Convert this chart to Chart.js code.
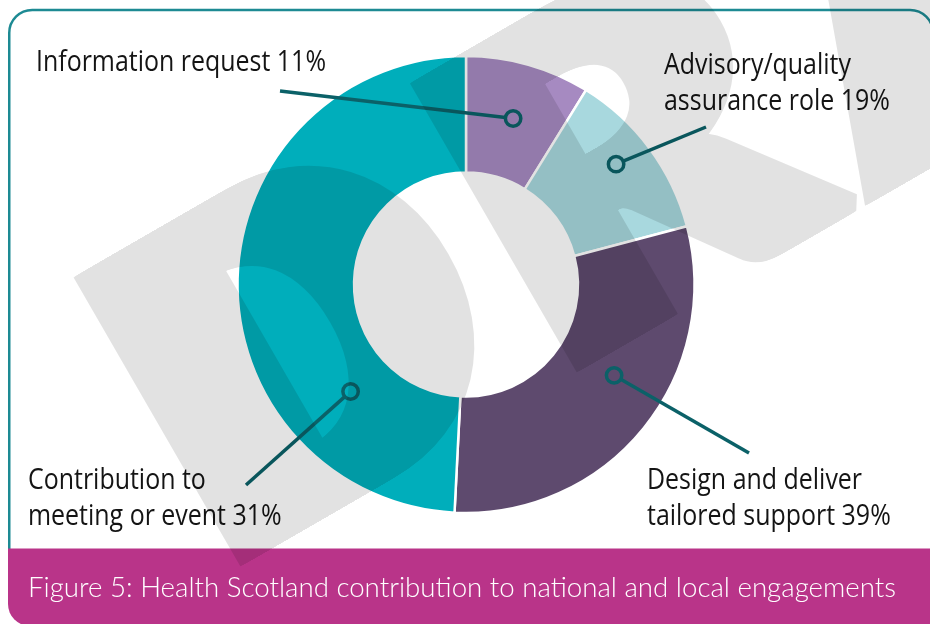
<!DOCTYPE html>
<html>
<head>
<meta charset="utf-8">
<script src="https://cdn.jsdelivr.net/npm/chart.js@4.4.1/dist/chart.umd.min.js"></script>
<style>
  html, body { margin: 0; padding: 0; background: #fff; overflow: hidden; }
  canvas { display: block; }
</style>
</head>
<body>
<canvas id="myChart" width="930" height="624"></canvas>
<script>
// data (slice sizes as drawn, percentages as printed)
const categories = ["Information request", "Advisory/quality assurance role", "Design and deliver tailored support", "Contribution to meeting or event"];
const sliceValues = [8.8, 12.1, 29.9, 49.2];
const printedPercents = [11, 19, 39, 31];
const labelLines = [
  ["Information request"],
  ["Advisory/quality", "assurance role"],
  ["Design and deliver", "tailored support"],
  ["Contribution to", "meeting or event"]
];
const caption = "Figure 5: Health Scotland contribution to national and local engagements";
const watermark = "DRAFT";

const sliceColors = ["#a68ac1", "#a8d8de", "#5e4a6e", "#00aebb"];

// label placement: marker inside slice (t along angle, rf across ring), leader end, text anchor
const callouts = [
  { t: 0.5,  rf: 0.52, end: [280, 91],  x: 36,  y: 71 },
  { t: 0.45, rf: 0.69, end: [706, 127], x: 664, y: 74 },
  { t: 0.43, rf: 0.53, end: [749, 453], x: 647, y: 489 },
  { t: 0.25, rf: 0.39, end: [246, 485], x: 28,  y: 489 }
];

function scaledText(ctx, text, x, y, sx) {
  ctx.save();
  ctx.translate(x, y);
  ctx.scale(sx, 1);
  ctx.fillText(text, 0, 0);
  ctx.restore();
}

const frame = {
  id: "frame",
  beforeDraw(chart) {
    const ctx = chart.ctx;
    ctx.save();
    ctx.fillStyle = "#fff";
    ctx.fillRect(0, 0, chart.width, chart.height);
    // teal rounded frame
    const r = 23;
    ctx.strokeStyle = "#1d8a93";
    ctx.lineWidth = 2.5;
    ctx.beginPath();
    ctx.moveTo(9.25, 552);
    ctx.lineTo(9.25, 10 + r);
    ctx.arcTo(9.25, 10, 9.25 + r, 10, r);
    ctx.lineTo(933 - r, 10);
    ctx.arcTo(933, 10, 933, 10 + r, r);
    ctx.lineTo(933, 552);
    ctx.stroke();
    // magenta caption bar
    ctx.fillStyle = "#b93489";
    ctx.beginPath();
    ctx.moveTo(8, 548.5);
    ctx.lineTo(945, 548.5);
    ctx.lineTo(945, 626);
    ctx.lineTo(8 + 22, 626);
    ctx.arcTo(8, 626, 8, 604, 22);
    ctx.closePath();
    ctx.fill();
    ctx.fillStyle = "#fff";
    ctx.font = '300 28px Lato, "Open Sans", sans-serif';
    ctx.textBaseline = "alphabetic";
    const cw = ctx.measureText(caption).width;
    scaledText(ctx, caption, 28, 597, 868 / cw);
    ctx.restore();
  }
};

const callout = {
  id: "callout",
  afterDatasetsDraw(chart) {
    const ctx = chart.ctx;
    const arcs = chart.getDatasetMeta(0).data;
    ctx.save();
    ctx.font = '29px "Open Sans", sans-serif';
    const sx = 290 / ctx.measureText(labelLines[0][0] + " " + printedPercents[0] + "%").width;
    callouts.forEach((c, i) => {
      const a = arcs[i].getProps(["x", "y", "startAngle", "endAngle", "innerRadius", "outerRadius"], true);
      const ang = a.startAngle + c.t * (a.endAngle - a.startAngle);
      const rr = a.innerRadius + c.rf * (a.outerRadius - a.innerRadius);
      const px = a.x + rr * Math.cos(ang);
      const py = a.y + rr * Math.sin(ang);
      const dx = c.end[0] - px, dy = c.end[1] - py;
      const len = Math.hypot(dx, dy);
      const mr = 7.7;
      ctx.strokeStyle = "#0b6168";
      ctx.lineWidth = 3.5;
      ctx.lineCap = "butt";
      ctx.beginPath();
      ctx.moveTo(px + dx / len * mr, py + dy / len * mr);
      ctx.lineTo(c.end[0], c.end[1]);
      ctx.stroke();
      ctx.beginPath();
      ctx.arc(px, py, mr, 0, Math.PI * 2);
      ctx.stroke();
      // label text
      ctx.fillStyle = "#141414";
      const lines = labelLines[i].slice();
      lines[lines.length - 1] += " " + printedPercents[i] + "%";
      lines.forEach((ln, k) => scaledText(ctx, ln, c.x, c.y + k * 36, sx));
    });
    ctx.restore();
  }
};

const draftMark = {
  id: "draftMark",
  afterDraw(chart) {
    const ctx = chart.ctx;
    const oc = document.createElement("canvas");
    oc.width = chart.width;
    oc.height = chart.height;
    const o = oc.getContext("2d");
    const fam = '"DejaVu Sans", sans-serif';
    const w = 18;                    // outline weight
    const extra = [58, 20, 40, 40, 40]; // extra horizontal weight per letter
    const widths = [345, 341];       // ink widths along the baseline
    const starts = [0, 387, 728];
    const cap = 331;
    o.font = "900 100px Lato, " + fam;
    const capRatio = o.measureText("D").actualBoundingBoxAscent / 100;
    const size = (cap - w) / capRatio;
    o.font = "900 " + size + "px Lato, " + fam;
    o.fillStyle = "#000";
    o.strokeStyle = "#000";
    o.lineWidth = w;
    o.lineJoin = "miter";
    o.miterLimit = 2;
    let u = 0;
    let kxDefault = 1;
    watermark.split("").forEach((ch, i) => {
      const m = o.measureText(ch);
      const d = extra[i];
      const ink = m.actualBoundingBoxLeft + m.actualBoundingBoxRight + w;
      const kx = i < widths.length ? (widths[i] - d) / ink : kxDefault;
      if (i === 0) kxDefault = kx;
      const target = i < starts.length ? starts[i] : u;
      o.save();
      o.translate(67, 277);
      o.rotate(-Math.PI / 6);
      o.scale(kx, 1);
      const x = target / kx + m.actualBoundingBoxLeft + w / 2;
      const y = m.actualBoundingBoxAscent + w / 2;
      for (let j = 0; j <= d; j += 1) {
        o.fillText(ch, x + j / kx, y);
        o.strokeText(ch, x + j / kx, y);
      }
      o.restore();
      u = target + m.width * kx + d;
    });
    ctx.save();
    ctx.globalAlpha = 0.11;
    ctx.drawImage(oc, 0, 0);
    ctx.restore();
  }
};

new Chart(document.getElementById("myChart"), {
  type: "doughnut",
  data: {
    labels: categories,
    datasets: [{
      data: sliceValues,
      backgroundColor: sliceColors,
      borderColor: "#ffffff",
      borderWidth: 2.5
    }]
  },
  options: {
    responsive: false,
    animation: false,
    events: [],
    radius: 228.5,
    cutout: "49%",
    layout: { padding: { left: 2, right: 0, top: 0, bottom: 55 } },
    plugins: {
      legend: { display: false },
      tooltip: { enabled: false }
    }
  },
  plugins: [frame, callout, draftMark]
});
</script>
</body>
</html>
